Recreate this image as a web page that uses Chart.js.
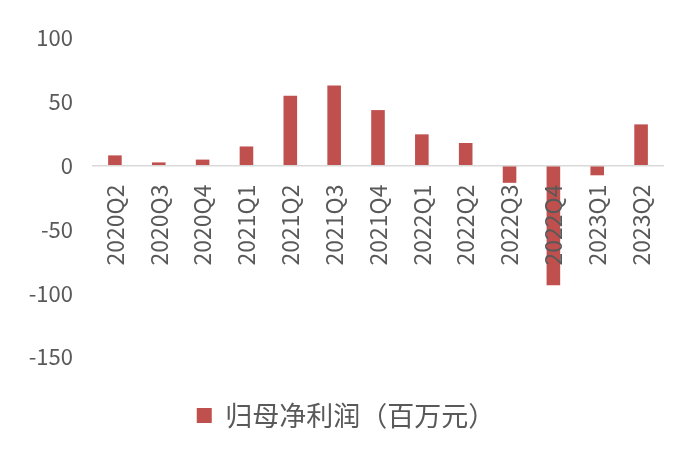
<!DOCTYPE html>
<html><head><meta charset="utf-8">
<script src="https://cdn.jsdelivr.net/npm/chart.js@4"></script>
<style>html,body{margin:0;padding:0;background:#fff}#wrap{width:700px;height:464px;position:relative}</style>
</head><body><div id="wrap"><canvas id="c"></canvas></div>
<script>
const categories = ['2020Q2','2020Q3','2020Q4','2021Q1','2021Q2','2021Q3','2021Q4','2022Q1','2022Q2','2022Q3','2022Q4','2023Q1','2023Q2'];
const profit = [8, 2.5, 4.7, 15, 54.7, 62.7, 43.5, 24.5, 17.7, -13.5, -93.7, -7.6, 32.3];
const yMin = -150;
const yMax = 100;
const yStep = 50;
const seriesName = '归母净利润（百万元）';

const FONT = "'Noto Sans CJK SC', 'Noto Sans', sans-serif";
const TXT = '#595959';

new Chart(document.getElementById('c'), {
  type: 'bar',
  data: {
    labels: categories,
    datasets: [{
      label: seriesName,
      data: profit,
      backgroundColor: '#C0504D',
      borderWidth: 0,
      categoryPercentage: 1,
      barPercentage: 0.31
    }]
  },
  options: {
    responsive: true,
    maintainAspectRatio: false,
    animation: false,
    layout: { padding: { top: 38, right: 37, left: 29, bottom: 25 } },
    plugins: {
      tooltip: { enabled: false },
      legend: {
        position: 'bottom',
        labels: {
          boxWidth: 15, boxHeight: 15, padding: 45,
          color: TXT,
          font: { family: FONT, size: 27 }
        }
      }
    },
    scales: {
      x: {
        position: { y: 0 },
        grid: { display: false, drawTicks: false },
        border: { display: true, color: '#d9d9d9', width: 1.5, z: 1 },
        ticks: {
          z: 1,
          minRotation: 90, maxRotation: 90, autoSkip: false,
          padding: 19,
          color: TXT,
          font: { family: FONT, size: 23 }
        }
      },
      y: {
        min: yMin, max: yMax,
        grid: { display: false, drawTicks: false },
        border: { display: false },
        afterFit: s => { s.width = 64; },
        ticks: {
          stepSize: yStep,
          padding: 20,
          color: TXT,
          font: { family: FONT, size: 22 }
        }
      }
    }
  }
});
</script>
</body></html>
